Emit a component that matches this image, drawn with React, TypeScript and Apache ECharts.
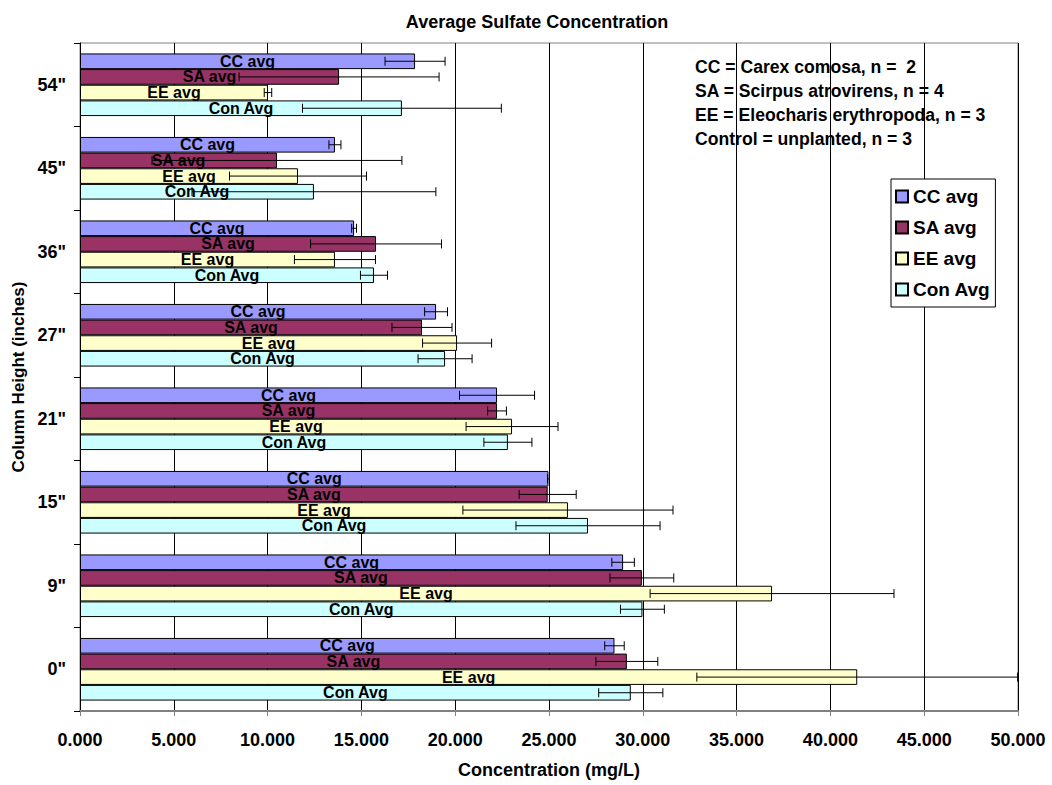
import React, { useEffect, useRef } from "react";
import * as echarts from "echarts";

const categories = ['0"', '9"', '15"', '21"', '27"', '36"', '45"', '54"'];
const seriesNames = ["CC avg", "SA avg", "EE avg", "Con Avg"];
const colors = ["#9999FF", "#993366", "#FFFFCC", "#CCFFFF"];

const ccAvg = [28.49, 28.95, 24.97, 22.23, 18.98, 14.61, 13.59, 17.86];
const ccErr = [0.52, 0.6, 0.05, 2.0, 0.61, 0.13, 0.32, 1.6];
const saAvg = [29.15, 29.95, 24.93, 22.23, 18.23, 15.78, 10.5, 13.81];
const saErr = [1.65, 1.7, 1.52, 0.5, 1.6, 3.49, 6.66, 5.33];
const eeAvg = [41.43, 36.89, 26.01, 23.03, 20.1, 13.59, 11.62, 10.02];
const eeErr = [8.55, 6.5, 5.6, 2.45, 1.84, 2.16, 3.65, 0.2];
const conAvg = [29.36, 29.98, 27.08, 22.81, 19.46, 15.67, 12.47, 17.16];
const conErr = [1.71, 1.17, 3.84, 1.28, 1.44, 0.72, 6.5, 5.3];

const xTicks = { min: 0, max: 50, interval: 5 };
const noteLines = [
  "CC = Carex comosa, n =  2",
  "SA = Scirpus atrovirens, n = 4",
  "EE = Eleocharis erythropoda, n = 3",
  "Control = unplanted, n = 3",
];

const FONT = "'Liberation Sans', Arial, sans-serif";
const CAT_GAP = 0.25;

export default function App() {
  const ref = useRef<HTMLDivElement>(null);
  useEffect(() => {
    document.body.style.margin = "0";
    if (!ref.current) return;
    const chart = echarts.init(ref.current, undefined, { renderer: "svg" });
    const avgs = [ccAvg, saAvg, eeAvg, conAvg];
    const errs = [ccErr, saErr, eeErr, conErr];
    const n = seriesNames.length;

    const barSeries = seriesNames.map((name, k) => ({
      type: "bar",
      name,
      data: avgs[k],
      barGap: "0%",
      barCategoryGap: "25%",
      itemStyle: { color: colors[k], borderColor: "#000", borderWidth: 1 },
      label: {
        show: true,
        position: "inside",
        formatter: "{a}",
        color: "#000",
        fontWeight: "bold",
        fontSize: 16,
        lineHeight: 14,
        fontFamily: FONT,
        textShadowColor: "rgba(0,0,0,0.3)",
        textShadowOffsetX: 1,
        textShadowOffsetY: 1,
        textShadowBlur: 0,
      },
      z: 2,
    }));

    const errSeries = seriesNames.map((name, k) => ({
      type: "custom",
      name: name + " err",
      data: avgs[k].map((v, i) => [i, v, errs[k][i]]),
      encode: { x: 1, y: 0 },
      z: 4,
      silent: true,
      renderItem: (params: any, api: any) => {
        const cat = api.value(0);
        const v = api.value(1);
        const e = api.value(2);
        const c = api.coord([v, cat]);
        const band = api.size([0, 1])[1];
        const total = band * (1 - CAT_GAP);
        const bw = total / n;
        const y = c[1] - total / 2 + k * bw + bw / 2;
        const lo = api.coord([Math.max(xTicks.min, v - e), cat])[0];
        const hiVal = v + e;
        const hi = api.coord([Math.min(xTicks.max, hiVal), cat])[0];
        const h = 4.5;
        const st = { stroke: "#000", lineWidth: 1 };
        const children: any[] = [
          { type: "line", shape: { x1: lo, y1: y, x2: hi, y2: y }, style: st },
          { type: "line", shape: { x1: lo, y1: y - h, x2: lo, y2: y + h }, style: st },
        ];
        if (hiVal <= xTicks.max) {
          children.push({ type: "line", shape: { x1: hi, y1: y - h, x2: hi, y2: y + h }, style: st });
        }
        return { type: "group", children };
      },
    }));

    chart.setOption({
      animation: false,
      textStyle: { fontFamily: FONT },
      title: {
        text: "Average Sulfate Concentration",
        left: 532,
        top: 8,
        textAlign: "center",
        textStyle: { fontSize: 18, fontWeight: "bold", color: "#000", fontFamily: FONT },
      },
      grid: {
        left: 80,
        right: 34,
        top: 43,
        bottom: 74,
        show: true,
        borderColor: "#808080",
        borderWidth: 1,
      },
      legend: {
        data: seriesNames,
        orient: "vertical",
        left: 891,
        top: 179,
        backgroundColor: "#fff",
        borderColor: "#000",
        borderWidth: 1,
        borderRadius: 0,
        padding: [8, 5, 8, 4],
        itemWidth: 12,
        itemHeight: 12,
        itemGap: 12,
        itemTextGap: 4,
        icon: "rect",
        textStyle: { fontSize: 19, fontWeight: "bold", color: "#000", lineHeight: 18, fontFamily: FONT },
      },
      xAxis: {
        type: "value",
        min: xTicks.min,
        max: xTicks.max,
        interval: xTicks.interval,
        name: "Concentration (mg/L)",
        nameLocation: "middle",
        nameGap: 50,
        nameTextStyle: { fontSize: 18, fontWeight: "bold", color: "#000", fontFamily: FONT },
        axisLine: { show: true, lineStyle: { color: "#808080", width: 2 } },
        axisTick: { show: true, length: 5, lineStyle: { color: "#808080" } },
        axisLabel: {
          formatter: (v: number) => v.toFixed(3),
          fontSize: 18,
          fontWeight: "bold",
          color: "#000",
          margin: 20,
          fontFamily: FONT,
        },
        splitLine: { show: true, lineStyle: { color: "#000", width: 1 } },
      },
      yAxis: {
        type: "category",
        data: categories,
        name: "Column Height (inches)",
        nameLocation: "middle",
        nameGap: 53,
        nameTextStyle: { fontSize: 17, fontWeight: "bold", color: "#000", fontFamily: FONT },
        axisLine: { show: true, lineStyle: { color: "#000", width: 1 } },
        axisTick: { show: true, length: 6, lineStyle: { color: "#000" } },
        axisLabel: { fontSize: 18, fontWeight: "bold", color: "#000", margin: 14, fontFamily: FONT },
        splitLine: { show: false },
      },
      graphic: [
        {
          type: "text",
          left: 695,
          top: 55,
          z: 10,
          style: {
            text: noteLines.join("\n"),
            fontSize: 17.6,
            fontWeight: "bold",
            lineHeight: 24,
            fill: "#000",
            fontFamily: FONT,
          },
        },
      ],
      series: [...barSeries, ...errSeries],
    });
    return () => chart.dispose();
  }, []);
  return <div ref={ref} style={{ width: 1052, height: 785 }} />;
}
